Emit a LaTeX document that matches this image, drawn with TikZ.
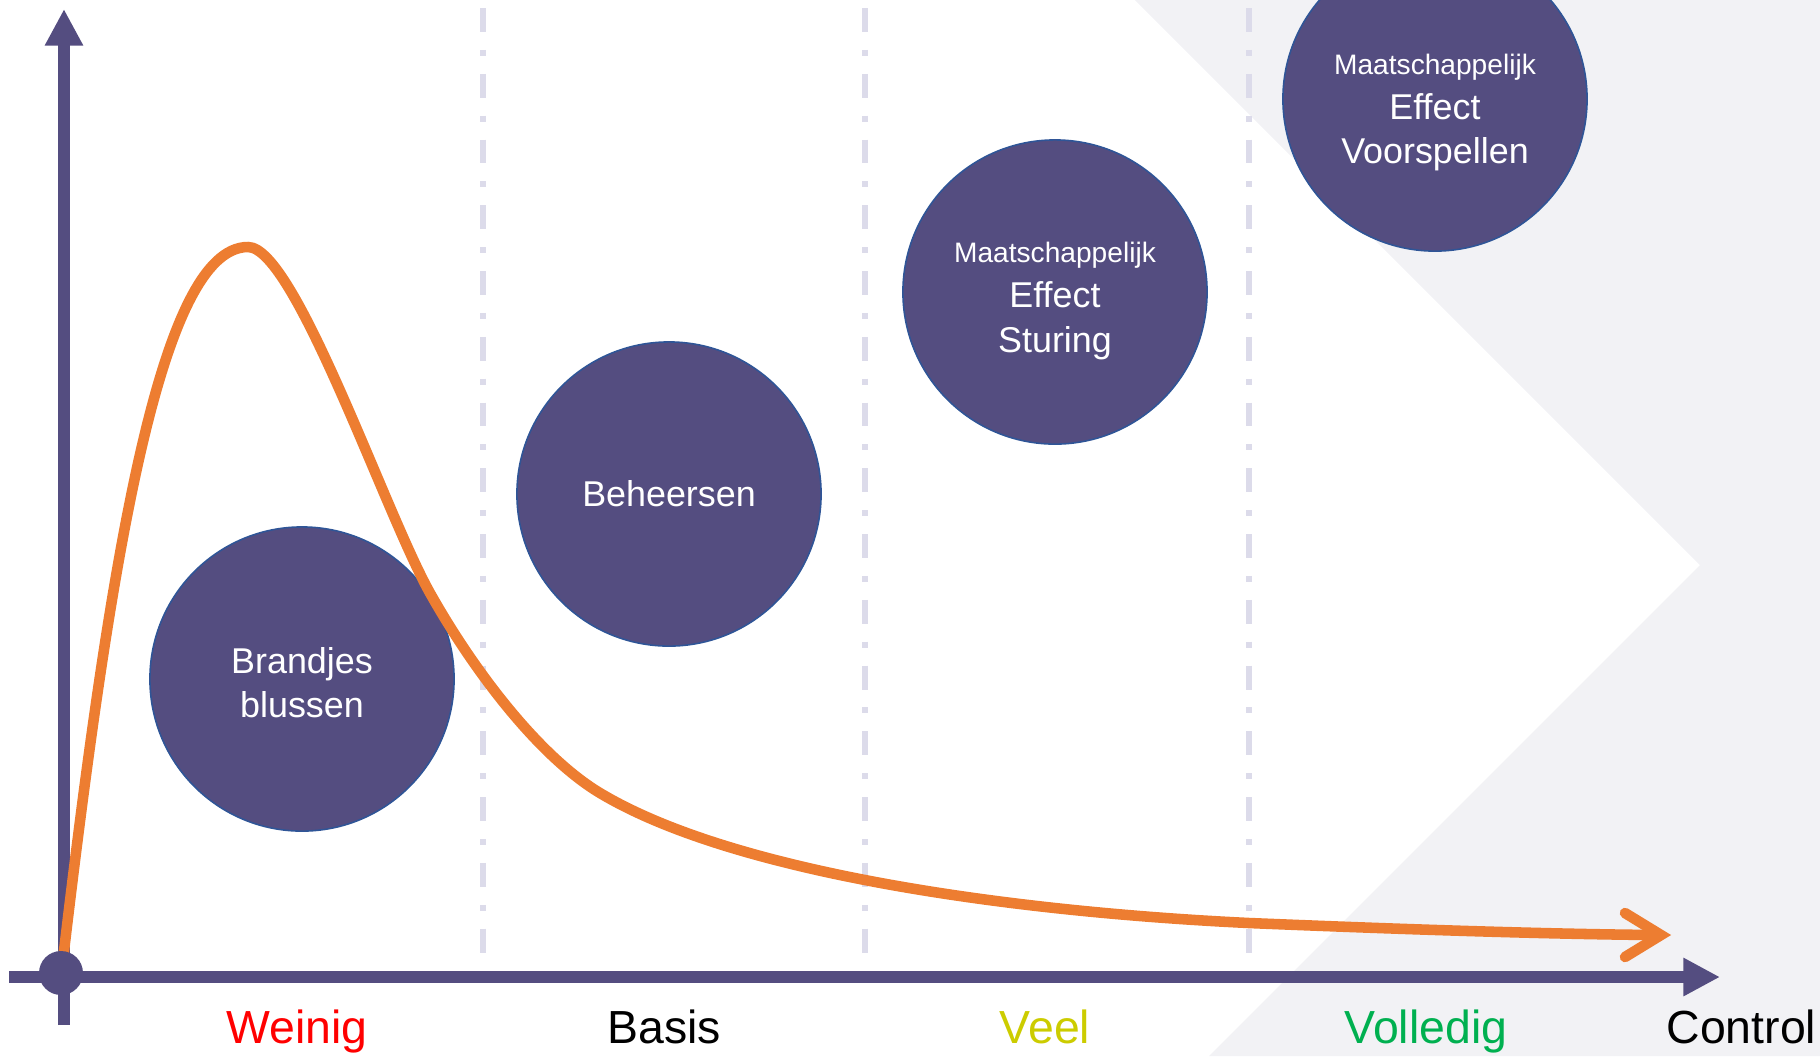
\documentclass[tikz,border=0pt]{standalone}
\usepackage{fontspec}
\setmainfont{Liberation Sans}
\usetikzlibrary{arrows.meta}
\definecolor{paars}{RGB}{84,77,128}
\definecolor{rand}{RGB}{47,85,151}
\definecolor{oranje}{RGB}{237,125,49}
\definecolor{streep}{RGB}{220,219,234}
\definecolor{grijs}{RGB}{242,242,245}
\definecolor{rood}{RGB}{255,0,0}
\definecolor{geel}{RGB}{204,204,0}
\definecolor{groen}{RGB}{0,176,80}
\def\klein{\fontsize{8}{12.8}\selectfont}

\begin{document}
\begin{tikzpicture}[x=0.01cm, y=-0.01cm,
	as/.style={line width=3.4pt, color=paars, -{Triangle[length=10.4pt,width=10.2pt]}},
	grens/.style={line width=1.7pt, color=streep, dash pattern=on 6.8pt off 5.1pt on 1.7pt off 5.1pt},
	bol/.style={circle, fill=paars, draw=rand, line width=0.45pt, minimum size=3.04cm, inner sep=0pt},
	tekst/.style={text=white, align=center, inner sep=0pt, font=\fontsize{10.2}{12.6}\selectfont},
	niveau/.style={anchor=base, inner sep=0pt, font=\fontsize{13.2}{15}\selectfont},
	curve/.style={line width=3pt, color=oranje, line cap=round}]
			%%%%% START %%%%%
			
			\useasboundingbox (0, 0) rectangle (1820, 1056);
			
			\fill[grijs] (1135, 0) -- (1700, 565) -- (1209, 1056) -- (1820, 1056) -- (1820, 0) -- cycle;
			
			\draw[grens] (483, 8) -- (483, 969);
			\draw[grens] (865, 8) -- (865, 969);
			\draw[grens] (1249, 8) -- (1249, 969);
			
			\coordinate (yonder) at (64, 1025);
			\coordinate (ytop) at (64, 9);
			\coordinate (xlinks) at (9, 977);
			\coordinate (xrechts) at (1720, 977);
			\draw[as] (yonder) -- (ytop);
			\draw[as] (xlinks) -- (xrechts);
			
			\node[bol] (brand) at (302, 679) {};
			\node[bol] (beheer) at (669, 494) {};
			\node[bol] (sturing) at (1055, 292) {};
			\node[bol] (voorspel) at (1435, 99) {};
			\node[tekst, yshift=-1pt] (brandtekst) at (brand) {Brandjes\\blussen};
			\node[tekst] (beheertekst) at (beheer) {Beheersen};
			\node[tekst, yshift=-2.6pt] (sturingtekst) at (sturing) {{\klein Maatschappelijk}\\[0.2pt]Effect\\Sturing};
			\node[tekst, yshift=-3.9pt] (voorspeltekst) at (voorspel) {{\klein Maatschappelijk}\\[0.2pt]Effect\\Voorspellen};
			
			\coordinate (start) at (62, 968);
			\coordinate (top) at (248, 247);
			\coordinate (punt) at (1661, 935);
			\draw[curve] (start) .. controls (110, 560) and (160, 247) .. (top)
				.. controls (295, 247) and (385, 513) .. (430, 593)
				.. controls (475, 673) and (540, 757) .. (600, 793)
				.. controls (730, 871) and (999, 911) .. (1249, 923)
				.. controls (1420, 930) and (1550, 934) .. (1654, 935);
			\draw[curve, line join=miter] (1625, 913) -- (punt) -- (1625, 957);
			
			\fill[paars] (61, 973) circle (22);
			
			\node[niveau, text=rood] (weinig) at (297, 1043) {Weinig};
			\node[niveau] (basis) at (664, 1043) {Basis};
			\node[niveau, text=geel] (veel) at (1045, 1043) {Veel};
			\node[niveau, text=groen] (volledig) at (1426, 1043) {Volledig};
			\node[niveau, anchor=base east] (control) at (1817, 1043) {Control};
			
			%%%%% END %%%%%
\end{tikzpicture}
\end{document}
